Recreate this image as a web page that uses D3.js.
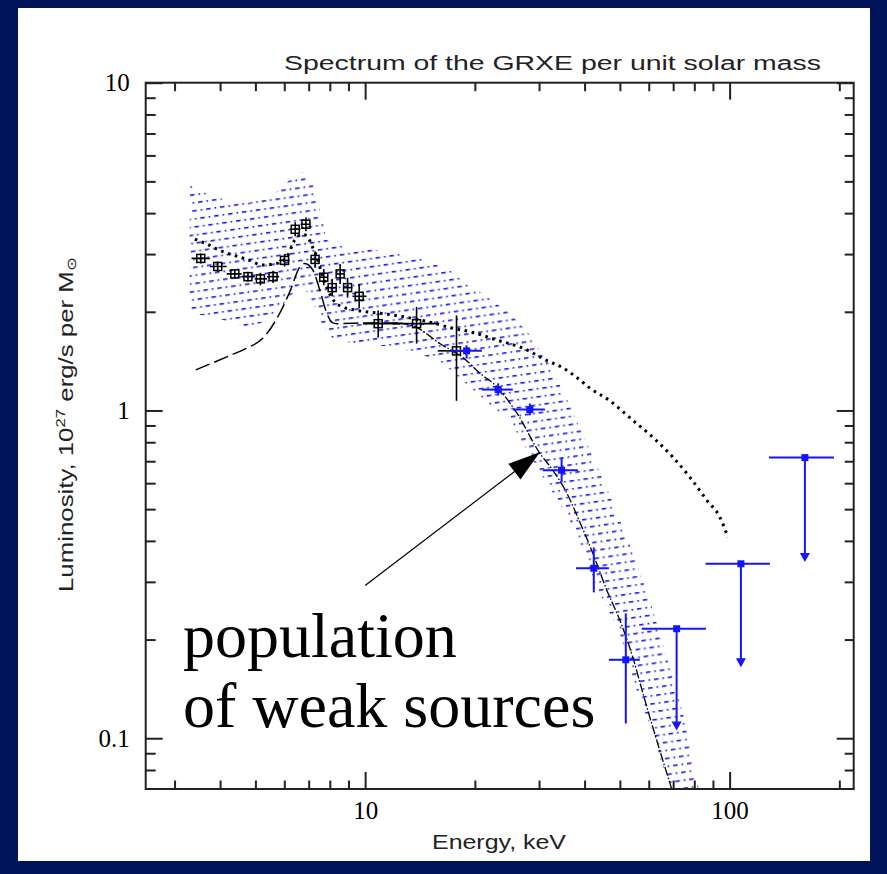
<!DOCTYPE html>
<html>
<head>
<meta charset="utf-8">
<style>
  html, body { margin: 0; padding: 0; background: #011359; }
  svg { display: block; }
</style>
<script src="https://cdn.jsdelivr.net/npm/d3@7.9.0/dist/d3.min.js"></script>
</head>
<body>
<svg id="chart" width="887" height="874"></svg>
<script>
// --- data ---

// low energy points (black squares)
const lowE    = [3.54, 3.94, 4.39, 4.77, 5.16, 5.59, 6.01, 6.43, 6.88, 7.29, 7.70, 8.12, 8.54, 8.95, 9.63, 10.86, 13.84, 17.81];
const lowEMin = [3.34, 3.75, 4.17, 4.58, 4.98, 5.38, 5.81, 6.21, 6.65, 7.08, 7.51, 7.91, 8.35, 8.74, 9.23, 9.86, 11.91, 15.83];
const lowEMax = [3.75, 4.17, 4.58, 4.98, 5.38, 5.81, 6.21, 6.65, 7.08, 7.51, 7.91, 8.35, 8.74, 9.23, 10.09, 12.45, 15.74, 18.54];
const lowL    = [2.91, 2.75, 2.61, 2.56, 2.52, 2.56, 2.87, 3.57, 3.70, 2.89, 2.55, 2.37, 2.61, 2.37, 2.23, 1.84, 1.84, 1.52];
const lowLMin = [2.81, 2.65, 2.52, 2.47, 2.41, 2.45, 2.75, 3.40, 3.52, 2.73, 2.41, 2.23, 2.43, 2.21, 2.05, 1.67, 1.60, 1.07];
const lowLMax = [3.01, 2.85, 2.70, 2.65, 2.63, 2.67, 3.00, 3.75, 3.88, 3.06, 2.70, 2.52, 2.80, 2.54, 2.43, 2.02, 2.07, 1.95];

// hard X-ray points (blue)
const hiE    = [18.98, 23.17, 28.31, 34.6, 42.4, 51.9];
const hiEMin = [17.08, 20.91, 25.43, 30.74, 37.87, 46.65];
const hiEMax = [20.91, 25.42, 31.13, 38.35, 46.65, 56.7];
const hiL    = [1.52, 1.158, 1.006, 0.657, 0.330, 0.1735];
const hiLMin = [1.44, 1.11, 0.967, 0.6035, 0.2786, 0.1109];
const hiLMax = [1.58, 1.21, 1.05, 0.715, 0.382, 0.2403];

// upper limits (blue, with arrows)
const limE    = [71.55, 107.4, 160.9];
const limEMin = [57.45, 85.9, 128.2];
const limEMax = [86.1, 129, 193.3];
const limL    = [0.2158, 0.3406, 0.718];
const limTo   = [0.1056, 0.1647, 0.3446];

// total model (dotted)
const totalE = [3.41, 3.68, 3.99, 4.34, 4.74, 5.24, 5.73, 6.10, 6.41, 6.75, 6.96, 7.19, 7.37, 7.51, 7.65, 7.90, 8.26, 8.68, 9.49, 10.97, 12.45, 15.05, 17.08, 19.75, 22.98, 27.09, 31.52, 34.87, 38.11, 41.37, 46.94, 54.27, 61.59, 69.89, 77.84, 86.63, 94.06, 99.0];
const totalL = [3.33, 3.22, 3.08, 2.98, 2.89, 2.78, 2.81, 2.94, 3.31, 3.45, 3.38, 3.13, 2.94, 2.74, 2.55, 2.33, 2.14, 2.07, 2.02, 1.98, 1.94, 1.86, 1.79, 1.73, 1.64, 1.55, 1.42, 1.35, 1.26, 1.17, 1.07, 0.933, 0.828, 0.720, 0.625, 0.532, 0.472, 0.410];

// soft component (long dashes)
const softE = [3.43, 4.25, 4.74, 5.24, 5.83, 6.21, 6.62, 6.83, 7.19, 7.51, 7.85, 8.15, 8.36, 10.30, 12.45];
const softL = [1.33, 1.47, 1.55, 1.66, 1.98, 2.30, 2.74, 2.81, 2.68, 2.33, 1.98, 1.85, 1.84, 1.85, 1.85];

// weak sources population (thin dash-dot)
const hardE = [12.45, 13.87, 16.03, 18.54, 20.64, 22.98, 26.09, 30.16, 32.74, 35.77, 38.83, 42.17, 46.06, 50.0, 54.27, 57.84, 61.59, 65.6, 69.45];
const hardL = [1.85, 1.79, 1.60, 1.45, 1.30, 1.18, 0.981, 0.740, 0.657, 0.559, 0.456, 0.366, 0.2825, 0.229, 0.1763, 0.137, 0.1078, 0.0855, 0.0697];

// uncertainty band (blue hatch)
const bandUpE = [3.30, 3.82, 4.74, 5.48, 6.33, 6.75, 7.19, 7.51, 7.85, 8.91, 10.97, 14.13, 17.08, 21.58, 24.95, 28.31, 32.13, 36.45, 41.37, 46.94, 53.25, 60.43, 66.44, 74.44, 81.33, 82.87];
const bandUpL = [4.87, 4.48, 4.29, 4.45, 5.15, 5.34, 4.87, 4.09, 3.31, 3.13, 3.08, 2.91, 2.68, 2.22, 1.98, 1.70, 1.37, 1.04, 0.756, 0.551, 0.388, 0.263, 0.185, 0.119, 0.0743, 0.068];
const bandLoE = [3.30, 3.82, 4.74, 5.48, 6.21, 6.62, 7.05, 7.51, 8.00, 9.25, 12.22, 15.05, 16.76, 19.38, 21.99, 24.48, 27.09, 30.74, 34.21, 38.11, 43.23, 50.0, 55.67, 61.59, 67.29, 68.59];
const bandLoL = [1.98, 1.93, 1.79, 1.89, 2.22, 2.41, 2.25, 1.89, 1.67, 1.60, 1.56, 1.45, 1.355, 1.18, 1.02, 0.967, 0.794, 0.625, 0.521, 0.422, 0.2885, 0.2088, 0.1398, 0.1033, 0.0743, 0.068];

// arrow annotation: from (E, L) to (E, L)
const arrowFrom = [10.0, 0.2926];
const arrowTo   = [30.16, 0.7455];

// axis labels
const xTickLabels = [10, 100];
const yTickLabels = [0.1, 1, 10];

// --- setup ---
const svg = d3.select('#chart');
const W = 887, H = 874;
const plot = { left: 145.7, right: 853.7, top: 82.7, bottom: 789 };

const x = d3.scaleLog().domain([2.5, 219]).range([plot.left, plot.right]);
const y = d3.scaleLog().domain([0.07, 10]).range([plot.bottom, plot.top]);

const ink = '#222';
const blue = '#1414ff';
const serif = '"Liberation Serif", "Times New Roman", serif';
const sans = '"Liberation Sans", Arial, sans-serif';

// navy slide background + white panel
svg.append('rect').attr('width', W).attr('height', H).attr('fill', '#011359');
svg.append('rect').attr('x', 18).attr('y', 8).attr('width', 852).attr('height', 853).attr('fill', '#fff');

const defs = svg.append('defs');
defs.append('clipPath').attr('id', 'plotClip')
  .append('rect')
  .attr('x', plot.left).attr('y', plot.top)
  .attr('width', plot.right - plot.left).attr('height', plot.bottom - plot.top);

// hatch: staggered rows of short blue dashes and dots
const hatch = defs.append('pattern')
  .attr('id', 'hatch')
  .attr('patternUnits', 'userSpaceOnUse')
  .attr('width', 14).attr('height', 16)
  .attr('patternTransform', 'rotate(-8)');
hatch.append('rect').attr('x', 0).attr('y', 3).attr('width', 4.5).attr('height', 1.6).attr('fill', blue);
hatch.append('rect').attr('x', 8.5).attr('y', 3).attr('width', 1.7).attr('height', 1.6).attr('fill', blue);
hatch.append('rect').attr('x', 7).attr('y', 11).attr('width', 4.5).attr('height', 1.6).attr('fill', blue);
hatch.append('rect').attr('x', 1.5).attr('y', 11).attr('width', 1.7).attr('height', 1.6).attr('fill', blue);

const g = svg.append('g').attr('clip-path', 'url(#plotClip)');

// band
const bandPts = d3.zip(bandUpE, bandUpL).concat(d3.zip(bandLoE, bandLoL).reverse());
g.append('path')
  .attr('d', d3.line().x(d => x(d[0])).y(d => y(d[1]))(bandPts) + 'Z')
  .attr('fill', 'url(#hatch)');

// model curves
const line = d3.line().x(d => x(d[0])).y(d => y(d[1])).curve(d3.curveMonotoneX);

g.append('path')
  .attr('d', line(d3.zip(totalE, totalL)))
  .attr('fill', 'none').attr('stroke', '#000')
  .attr('stroke-width', 3).attr('stroke-dasharray', '2.6 4.6');

g.append('path')
  .attr('d', line(d3.zip(softE, softL)))
  .attr('fill', 'none').attr('stroke', '#000')
  .attr('stroke-width', 1.5).attr('stroke-dasharray', '15 5');

g.append('path')
  .attr('d', line(d3.zip(hardE, hardL)))
  .attr('fill', 'none').attr('stroke', '#000')
  .attr('stroke-width', 1.3).attr('stroke-dasharray', '9 2 1.5 2');

// black points
lowE.forEach((e, i) => {
  const px = x(e), py = y(lowL[i]);
  g.append('line').attr('x1', x(lowEMin[i])).attr('x2', x(lowEMax[i]))
    .attr('y1', py).attr('y2', py).attr('stroke', '#000').attr('stroke-width', 1.6);
  g.append('line').attr('x1', px).attr('x2', px)
    .attr('y1', y(lowLMin[i])).attr('y2', y(lowLMax[i])).attr('stroke', '#000').attr('stroke-width', 1.6);
  g.append('rect').attr('x', px - 4).attr('y', py - 4).attr('width', 8).attr('height', 8)
    .attr('fill', 'none').attr('stroke', '#000').attr('stroke-width', 1.5);
});

// blue points
hiE.forEach((e, i) => {
  const px = x(e), py = y(hiL[i]);
  g.append('line').attr('x1', x(hiEMin[i])).attr('x2', x(hiEMax[i]))
    .attr('y1', py).attr('y2', py).attr('stroke', blue).attr('stroke-width', 2);
  g.append('line').attr('x1', px).attr('x2', px)
    .attr('y1', y(hiLMin[i])).attr('y2', y(hiLMax[i])).attr('stroke', blue).attr('stroke-width', 2);
  g.append('rect').attr('x', px - 3.5).attr('y', py - 3.5).attr('width', 7).attr('height', 7).attr('fill', blue);
});

// upper limits
limE.forEach((e, i) => {
  const px = x(e), py = y(limL[i]), tip = y(limTo[i]);
  g.append('line').attr('x1', x(limEMin[i])).attr('x2', x(limEMax[i]))
    .attr('y1', py).attr('y2', py).attr('stroke', blue).attr('stroke-width', 2);
  g.append('line').attr('x1', px).attr('x2', px)
    .attr('y1', py).attr('y2', tip - 6).attr('stroke', blue).attr('stroke-width', 2);
  g.append('path').attr('d', `M${px - 5},${tip - 9}L${px + 5},${tip - 9}L${px},${tip}Z`).attr('fill', blue);
  g.append('rect').attr('x', px - 3.5).attr('y', py - 3.5).attr('width', 7).attr('height', 7).attr('fill', blue);
});

// --- axes ---
const xMinor = x.ticks().filter(v => !xTickLabels.includes(v));
const yMinor = y.ticks().filter(v => !yTickLabels.includes(v) && v > 0.07);

function styleAxis(sel) {
  sel.select('.domain').remove();
  sel.selectAll('line').attr('stroke', ink).attr('stroke-width', 2);
  sel.selectAll('text').attr('fill', '#000').style('font-family', serif).style('font-size', '25px');
}

svg.append('g').attr('transform', `translate(0,${plot.bottom})`)
  .call(d3.axisBottom(x).tickValues(xTickLabels).tickSize(-17).tickFormat(d3.format('d')))
  .call(styleAxis)
  .call(a => a.selectAll('text').attr('y', 30).attr('dy', 0));
svg.append('g').attr('transform', `translate(0,${plot.bottom})`)
  .call(d3.axisBottom(x).tickValues(xMinor).tickSize(-8.5).tickFormat(''))
  .call(styleAxis);
svg.append('g').attr('transform', `translate(0,${plot.top})`)
  .call(d3.axisTop(x).tickValues(xTickLabels).tickSize(-17).tickFormat(''))
  .call(styleAxis);
svg.append('g').attr('transform', `translate(0,${plot.top})`)
  .call(d3.axisTop(x).tickValues(xMinor).tickSize(-8.5).tickFormat(''))
  .call(styleAxis);

svg.append('g').attr('transform', `translate(${plot.left},0)`)
  .call(d3.axisLeft(y).tickValues(yTickLabels).tickSize(-17).tickFormat(d => d3.format('~g')(d)))
  .call(styleAxis)
  .call(a => a.selectAll('text').attr('x', -16));
svg.append('g').attr('transform', `translate(${plot.left},0)`)
  .call(d3.axisLeft(y).tickValues(yMinor).tickSize(-10).tickFormat(''))
  .call(styleAxis);
svg.append('g').attr('transform', `translate(${plot.right},0)`)
  .call(d3.axisRight(y).tickValues(yTickLabels).tickSize(-17).tickFormat(''))
  .call(styleAxis);
svg.append('g').attr('transform', `translate(${plot.right},0)`)
  .call(d3.axisRight(y).tickValues(yMinor).tickSize(-9).tickFormat(''))
  .call(styleAxis);

// frame
svg.append('rect')
  .attr('x', plot.left).attr('y', plot.top)
  .attr('width', plot.right - plot.left).attr('height', plot.bottom - plot.top)
  .attr('fill', 'none').attr('stroke', ink).attr('stroke-width', 2);

// --- titles ---
svg.append('text')
  .attr('x', 284).attr('y', 70)
  .attr('textLength', 537).attr('lengthAdjust', 'spacingAndGlyphs')
  .style('font-family', sans).style('font-size', '20px').attr('fill', ink)
  .text('Spectrum of the GRXE per unit solar mass');

svg.append('text')
  .attr('x', 432).attr('y', 849)
  .attr('textLength', 134).attr('lengthAdjust', 'spacingAndGlyphs')
  .style('font-family', sans).style('font-size', '20px').attr('fill', ink)
  .text('Energy, keV');

const yt = svg.append('text')
  .attr('transform', 'translate(73,592) rotate(-90)')
  .attr('textLength', 335).attr('lengthAdjust', 'spacingAndGlyphs')
  .style('font-family', sans).style('font-size', '20px').attr('fill', ink);
yt.append('tspan').text('Luminosity, 10');
yt.append('tspan').attr('dy', -8).style('font-size', '13px').text('27');
yt.append('tspan').attr('dy', 8).text(' erg/s per M');
yt.append('tspan').attr('dy', 3).style('font-size', '13px').text('\u2299');

// --- annotation ---
const ax0 = x(arrowFrom[0]), ay0 = y(arrowFrom[1]);
const ax1 = x(arrowTo[0]), ay1 = y(arrowTo[1]);
const len = Math.hypot(ax1 - ax0, ay1 - ay0);
const ux = (ax1 - ax0) / len, uy = (ay1 - ay0) / len;
const head = 32, half = 10;
svg.append('line')
  .attr('x1', ax0).attr('y1', ay0)
  .attr('x2', ax1 - ux * head * 0.8).attr('y2', ay1 - uy * head * 0.8)
  .attr('stroke', '#000').attr('stroke-width', 1.2);
const bx = ax1 - ux * head, by = ay1 - uy * head;
svg.append('path')
  .attr('d', `M${ax1},${ay1}L${bx - uy * half},${by + ux * half}L${bx + uy * half},${by - ux * half}Z`)
  .attr('fill', '#000');

svg.append('text')
  .attr('x', 183).attr('y', 657)
  .style('font-family', serif).style('font-size', '64px').attr('fill', '#000')
  .text('population');
svg.append('text')
  .attr('x', 183).attr('y', 727)
  .style('font-family', serif).style('font-size', '64px').attr('fill', '#000')
  .text('of weak sources');
</script>
</body>
</html>
